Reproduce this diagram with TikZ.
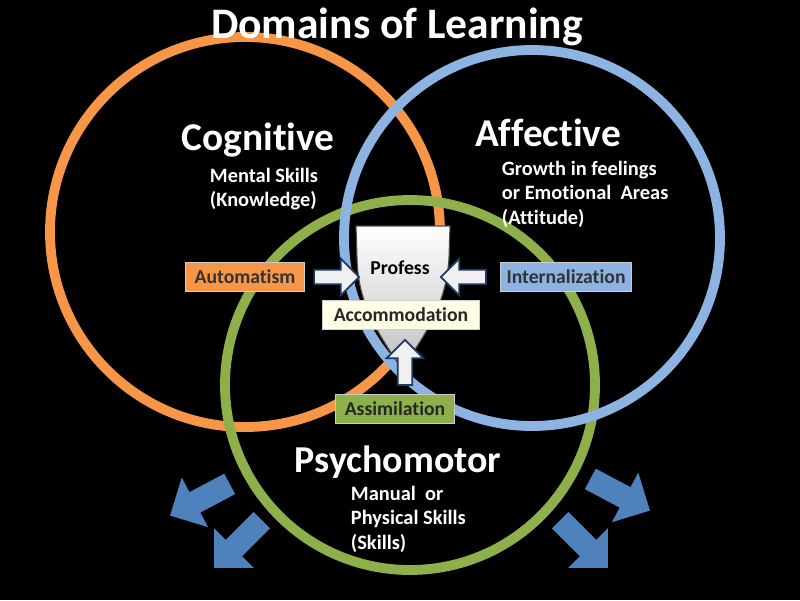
\documentclass[tikz,border=0pt]{standalone}
\usepackage{fontspec}
\setmainfont{Carlito}[Ligatures=NoCommon]
\usetikzlibrary{shapes.arrows}
\definecolor{cogorange}{HTML}{F79646}
\definecolor{affblue}{HTML}{8DB3E2}
\definecolor{psygreen}{HTML}{8DB04A}
\definecolor{arrowblue}{HTML}{4F81BD}
\definecolor{edgeblue}{HTML}{1F3864}
\tikzset{
  ring/.style={line width=7pt},
  tag/.style={draw=white!80!black, line width=0.8pt, minimum height=21pt, inner sep=3pt, font=\bfseries\fontsize{14}{16}\selectfont},
  inarrow/.style={single arrow, draw=edgeblue, line width=1.2pt, fill=white!94!black, minimum height=32pt, minimum width=26pt, single arrow head extend=4pt, inner sep=2pt},
  outarrow/.style={single arrow, fill=arrowblue, minimum height=48pt, minimum width=40pt, single arrow head extend=6pt, inner sep=4pt},
  head/.style={text=white, font=\bfseries\fontsize{26}{30}\selectfont},
  note/.style={text=white, align=left, font=\bfseries\fontsize{14.5}{17.5}\selectfont}
}
\begin{document}
\begin{tikzpicture}[x=0.025cm, y=-0.025cm]
    \fill[black] (0,0) rectangle (800,600);
    \useasboundingbox (0,0) rectangle (800,600);

    % the three domains
    \draw[ring, cogorange] (245,232) circle (195);
    \draw[ring, psygreen] (410,385) circle (185);
    \draw[ring, affblue] (532,238) circle (188);

    % profess shield
    \shade[top color=white, bottom color=black!25, draw=black!70, line width=0.8pt]
      (356,226) -- (450,226) -- (449,258)
      .. controls (446,310) and (420,340) .. (402,370)
      .. controls (384,340) and (358,310) .. (357,258) -- cycle;

    \node[head, font=\bfseries\fontsize{31}{34}\selectfont] (title) at (397,27) {Domains of Learning};
    \node[head, font=\bfseries\fontsize{28}{30}\selectfont] (cog) at (258,140) {Cognitive};
    \node[note, anchor=north west] (cognote) at (205,163) {Mental Skills\\(Knowledge)};
    \node[head, font=\bfseries\fontsize{28}{30}\selectfont] (aff) at (548,133) {Affective};
    \node[note, anchor=north west] (affnote) at (497,156) {Growth in feelings\\or Emotional~ Areas\\(Attitude)};
    \node[head, font=\bfseries\fontsize{27}{30}\selectfont] (psy) at (398,462) {Psychomotor};
    \node[note, anchor=north west] (psynote) at (346,481) {Manual~ or\\Physical Skills\\(Skills)};

    \node[font=\bfseries\fontsize{14}{16}\selectfont] (profess) at (400,268) {Profess};
    \node[tag, fill=cogorange, text=black!80, minimum width=120*0.709pt] (autom) at (245,277) {Automatism};
    \node[tag, fill=affblue, text=black!80, minimum width=132*0.709pt] (intern) at (566,277) {Internalization};
    \node[tag, fill=white!90!yellow, text=black!85, minimum width=158*0.709pt] (accom) at (401,315) {Accommodation};
    \node[tag, fill=psygreen, text=black!85, minimum width=120*0.709pt] (assim) at (395,409) {Assimilation};

    % arrows into profess
    \node[inarrow] (fromleft) at (333,277) {};
    \node[inarrow, rotate=180] (fromright) at (467,277) {};
    \node[inarrow, rotate=90] (frombelow) at (405,366) {};

    % arrows going out
    \node[outarrow, rotate=208] (outa) at (205,497) {};
    \node[outarrow, rotate=225] (outb) at (242,540) {};
    \node[outarrow, rotate=-28] (outc) at (615,492) {};
    \node[outarrow, rotate=-45] (outd) at (580,540) {};
\end{tikzpicture}
\end{document}
